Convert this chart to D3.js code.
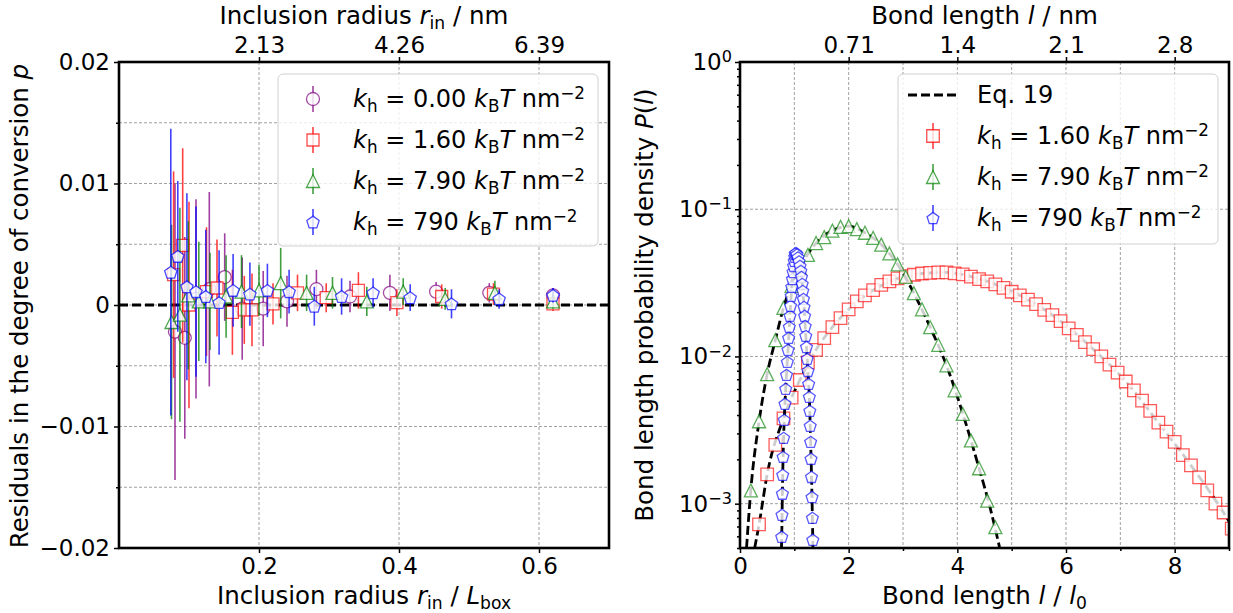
<!DOCTYPE html>
<html>
<head>
<meta charset="utf-8">
<script src="https://cdn.jsdelivr.net/npm/d3@7"></script>
<style>
  body { margin: 0; background: #fff; }
  svg { font-family: "DejaVu Sans", sans-serif; }
</style>
</head>
<body>
<svg id="chart" width="1233" height="613"></svg>
<script>
// ---- left panel: residuals vs inclusion radius ----
const kh000X = [0.080, 0.094, 0.110, 0.129, 0.151, 0.176, 0.206, 0.240, 0.282, 0.330, 0.387, 0.453, 0.529, 0.620];
const kh000Y = [-0.0022, -0.0027, 0.0005, 0.0013, 0.0023, -0.0003, -0.0003, 0.0003, 0.0013, 0.0007, 0.0010, 0.0011, 0.0010, 0.0008];
const kh000Err = [0.0122, 0.0083, 0.0082, 0.0080, 0.0036, 0.0042, 0.0031, 0.0021, 0.0016, 0.0013, 0.0015, 0.0008, 0.0008, 0.0006];

const kh160X = [0.078, 0.091, 0.100, 0.125, 0.140, 0.162, 0.179, 0.190, 0.220, 0.255, 0.296, 0.342, 0.397, 0.461, 0.535, 0.620];
const kh160Y = [0.0025, 0.0049, 0.0000, 0.0011, 0.0014, -0.0006, -0.0004, -0.0004, 0.0001, 0.0010, 0.0006, 0.0012, 0.0002, 0.0007, 0.0009, 0.0001];
const kh160Err = [0.0085, 0.0080, 0.0085, 0.0053, 0.0040, 0.0035, 0.0028, 0.0030, 0.0017, 0.0015, 0.0012, 0.0015, 0.0011, 0.0010, 0.0009, 0.0006];

const kh790X = [0.075, 0.087, 0.099, 0.114, 0.130, 0.153, 0.175, 0.200, 0.231, 0.268, 0.305, 0.354, 0.406, 0.466, 0.537, 0.620];
const kh790Y = [-0.0014, -0.0008, 0.0008, 0.0003, 0.0003, 0.0007, 0.0011, 0.0012, 0.0018, 0.0010, 0.0010, 0.0003, 0.0011, 0.0005, 0.0010, 0.0003];
const kh790Err = [0.0080, 0.0088, 0.0061, 0.0049, 0.0040, 0.0034, 0.0030, 0.0021, 0.0029, 0.0015, 0.0013, 0.0012, 0.0011, 0.0009, 0.0010, 0.0006];

const kh7900X = [0.074, 0.084, 0.097, 0.110, 0.124, 0.143, 0.163, 0.187, 0.212, 0.243, 0.279, 0.318, 0.363, 0.416, 0.475, 0.543, 0.620];
const kh7900Y = [0.0027, 0.0040, 0.0015, 0.0011, 0.0007, 0.0002, 0.0012, 0.0009, 0.0012, 0.0011, -0.0001, 0.0007, 0.0010, 0.0006, 0.0001, 0.0005, 0.0008];
const kh7900Err = [0.0118, 0.0062, 0.0077, 0.0070, 0.0055, 0.0043, 0.0030, 0.0026, 0.0022, 0.0018, 0.0016, 0.0015, 0.0012, 0.0011, 0.0012, 0.0008, 0.0006];

const leftYTicks = [-0.02, -0.01, 0, 0.01, 0.02];
const leftYLabels = ["\u22120.02", "\u22120.01", "0", "0.01", "0.02"];
const leftYMinor = [-0.015, -0.005, 0.005, 0.015];
const leftXTicks = [0.2, 0.4, 0.6];
const leftXLabels = ["0.2", "0.4", "0.6"];
const leftTopLabels = ["2.13", "4.26", "6.39"];

// ---- right panel: bond length distributions ----
const redL = [0.35, 0.5, 0.65, 0.8, 0.95, 1.1, 1.25, 1.4, 1.55, 1.7, 1.85, 2.0, 2.15, 2.3, 2.45, 2.6, 2.75, 2.9, 3.05, 3.2,
  3.35, 3.5, 3.65, 3.8, 3.95, 4.1, 4.25, 4.4, 4.55, 4.7, 4.85, 5.0, 5.15, 5.3, 5.45, 5.6, 5.75, 5.9, 6.05, 6.2,
  6.35, 6.5, 6.65, 6.8, 6.95, 7.1, 7.25, 7.4, 7.55, 7.7, 7.85, 8.0, 8.15, 8.3, 8.45, 8.6, 8.75, 8.9, 9.05];
const redP = [0.000724, 0.00158, 0.00251, 0.00380, 0.00525, 0.00692, 0.00912, 0.0111, 0.0133, 0.0158, 0.0182, 0.0209, 0.0237, 0.0260, 0.0282, 0.0306, 0.0324, 0.0339, 0.0351, 0.0359,
  0.0366, 0.0370, 0.0372, 0.0372, 0.0367, 0.0361, 0.0349, 0.0335, 0.0324, 0.0309, 0.0292, 0.0275, 0.0260, 0.0243, 0.0227, 0.0207, 0.0191, 0.0174, 0.0155, 0.0140,
  0.0125, 0.0112, 0.0100, 0.00881, 0.00776, 0.00676, 0.00589, 0.00501, 0.00427, 0.00355, 0.00309, 0.00263, 0.00214, 0.00182, 0.00151, 0.00123, 0.00100, 0.000871, 0.000676];

const greenL = [0.2, 0.35, 0.5, 0.65, 0.8, 0.95, 1.1, 1.25, 1.4, 1.55, 1.7, 1.85, 2.0, 2.15, 2.3, 2.45, 2.6, 2.75, 2.9, 3.05,
  3.2, 3.35, 3.5, 3.65, 3.8, 3.95, 4.1, 4.25, 4.4, 4.55, 4.7];
const greenP = [0.00123, 0.00363, 0.00759, 0.0129, 0.0214, 0.0302, 0.0398, 0.0490, 0.0589, 0.0646, 0.0716, 0.0759, 0.0767, 0.0733, 0.0692, 0.0638, 0.0575, 0.0501, 0.0422, 0.0347,
  0.0269, 0.0209, 0.0158, 0.0120, 0.00871, 0.00589, 0.00407, 0.00269, 0.00174, 0.00105, 0.000692];

const blueL = [0.768, 0.773, 0.780, 0.786, 0.793, 0.803, 0.814, 0.828, 0.841, 0.856, 0.871, 0.884, 0.895, 0.907, 0.920, 0.931,
  0.942, 0.953, 0.965, 0.976, 0.987, 0.998, 1.007, 1.016,
  1.031, 1.049, 1.068, 1.086, 1.104, 1.119, 1.132, 1.145, 1.156, 1.167, 1.178, 1.189, 1.200, 1.211, 1.224, 1.237,
  1.250, 1.263, 1.276, 1.285, 1.292, 1.300, 1.307, 1.316, 1.325, 1.333, 1.340];
const blueP = [0.000596, 0.000841, 0.00117, 0.00157, 0.00208, 0.00280, 0.00371, 0.00477, 0.00603, 0.00750, 0.00919, 0.0111, 0.0134, 0.0159, 0.0189, 0.0221,
  0.0258, 0.0297, 0.0336, 0.0375, 0.0412, 0.0446, 0.0475, 0.0497,
  0.0505, 0.0493, 0.0471, 0.0442, 0.0412, 0.0381, 0.0347, 0.0311, 0.0279, 0.0246, 0.0217, 0.0189, 0.0161, 0.0138, 0.0116, 0.00963,
  0.00798, 0.00652, 0.00532, 0.00427, 0.00338, 0.00263, 0.00202, 0.00152, 0.00111, 0.000802, 0.000569];

// Eq. 19 curves
const redFitL = [0.27, 0.35, 0.5, 0.8, 1.1, 1.4, 1.7, 2.0, 2.45, 2.9, 3.35, 3.8, 4.25, 4.7, 5.3, 5.9, 6.5, 7.1, 7.7, 8.3, 8.9, 9.1];
const redFitP = [0.0005, 0.00072, 0.00158, 0.0038, 0.0069, 0.0111, 0.0158, 0.0209, 0.0282, 0.0339, 0.0366, 0.0372, 0.0349, 0.0309, 0.0243, 0.0174, 0.0112, 0.00676, 0.00355, 0.00182, 0.00087, 0.00066];
const greenFitL = [0.12, 0.2, 0.35, 0.5, 0.65, 0.8, 1.1, 1.4, 1.7, 2.0, 2.3, 2.6, 2.9, 3.2, 3.5, 3.8, 4.1, 4.4, 4.6, 4.78];
const greenFitP = [0.0005, 0.00125, 0.0036, 0.0076, 0.0129, 0.0214, 0.0398, 0.0589, 0.0716, 0.0767, 0.0692, 0.0575, 0.0422, 0.0269, 0.0158, 0.0087, 0.0041, 0.00174, 0.00095, 0.0005];
const blueFitL = [0.763, 0.768, 0.780, 0.793, 0.814, 0.841, 0.884, 0.920, 0.953, 0.987, 1.016, 1.031, 1.068, 1.104, 1.145, 1.178, 1.211, 1.250, 1.276, 1.300, 1.325, 1.340, 1.343];
const blueFitP = [0.0005, 0.000596, 0.00117, 0.00208, 0.00371, 0.00603, 0.0111, 0.0189, 0.0297, 0.0412, 0.0497, 0.0505, 0.0471, 0.0412, 0.0311, 0.0217, 0.0138, 0.00798, 0.00532, 0.00263, 0.00111, 0.000569, 0.0005];

const rightXTicks = [0, 2, 4, 6, 8];
const rightXMinor = [1, 3, 5, 7, 9];
const rightXGrid = [1, 2, 3, 4, 5, 6, 7, 8];
const rightTopTicks = [2, 4, 6, 8];
const rightTopLabels = ["0.71", "1.4", "2.1", "2.8"];
const rightYTicks = [1, 0.1, 0.01, 0.001];
const rightYExp = ["0", "\u22121", "\u22122", "\u22123"];

const TICK = 23, LABEL = 24.5, LEG = 24;

const svg = d3.select("#chart");
const L = { x0: 119, x1: 609, y0: 62, y1: 548 };
const R = { x0: 740, x1: 1229, y0: 62, y1: 548 };

const xL = d3.scaleLinear().domain([0, 0.7]).range([L.x0, L.x1]);
const yL = d3.scaleLinear().domain([-0.02, 0.02]).range([L.y1, L.y0]);
const xR = d3.scaleLinear().domain([0, 9]).range([R.x0, R.x1]);
const yR = d3.scaleLog().domain([5e-4, 1]).range([R.y1, R.y0]);

const rgba = (c, a) => `rgba(${c[0]},${c[1]},${c[2]},${a})`;
const PURPLE = [128, 0, 128], RED = [255, 0, 0], GREEN = [0, 128, 0], BLUE = [0, 0, 255];

function khParts(v) {
  return [{ t: "k", it: 1 }, { t: "h", sub: 1 }, { t: " = " + v + " " }, { t: "k", it: 1 },
    { t: "B", sub: 1 }, { t: "T", it: 1 }, { t: " nm" }, { t: "\u22122", sup: 1 }];
}

// text with italic / sub / superscript pieces
function addText(g, x, y, parts, size, anchor, rotate) {
  const t = g.append("text")
    .attr("font-size", size)
    .attr("text-anchor", anchor || "start")
    .attr("fill", "#000")
    .style("white-space", "pre");
  if (rotate) t.attr("transform", `translate(${x},${y}) rotate(-90)`);
  else t.attr("x", x).attr("y", y);
  let cur = 0;
  parts.forEach((p) => {
    if (typeof p === "string") p = { t: p };
    const shift = p.sub ? 0.2 * size : p.sup ? -0.34 * size : 0;
    const ts = t.append("tspan").text(p.t).attr("dy", shift - cur);
    cur = shift;
    if (p.sub || p.sup) ts.attr("font-size", size * 0.7);
    if (p.it) ts.attr("font-style", "italic");
  });
  return t;
}

function markerPath(shape, s) {
  const h = s / 2;
  if (shape === "circle") return d3.symbol(d3.symbolCircle, Math.PI * h * h)();
  if (shape === "square") return `M${-h},${-h}H${h}V${h}H${-h}Z`;
  if (shape === "triangle") return `M0,${-h}L${h},${h}L${-h},${h}Z`;
  const pts = d3.range(5).map((i) => {
    const a = -Math.PI / 2 + (i * 2 * Math.PI) / 5;
    return [1.08 * h * Math.cos(a), 1.08 * h * Math.sin(a) + 0.1 * h];
  });
  return "M" + pts.join("L") + "Z";
}

function styleAxis(g, size) {
  g.select(".domain").remove();
  g.selectAll(".tick line").attr("stroke", "#000").attr("stroke-width", 1.5);
  g.selectAll(".tick text").attr("font-size", size).attr("font-family", '"DejaVu Sans", sans-serif').attr("fill", "#000");
}

const defs = svg.append("defs");
defs.append("clipPath").attr("id", "clipL").append("rect")
  .attr("x", L.x0).attr("y", L.y0).attr("width", L.x1 - L.x0).attr("height", L.y1 - L.y0);
defs.append("clipPath").attr("id", "clipR").append("rect")
  .attr("x", R.x0).attr("y", R.y0).attr("width", R.x1 - R.x0).attr("height", R.y1 - R.y0);

const gridStyle = (sel) => sel.attr("stroke", "#a0a0a0").attr("stroke-width", 1).attr("stroke-dasharray", "3,2");

// ================= LEFT PANEL =================
const gL = svg.append("g");

gL.append("g").selectAll("line").data(leftYTicks.concat(leftYMinor).filter((d) => d > -0.02 && d < 0.02))
  .join("line")
  .attr("x1", L.x0).attr("x2", L.x1).attr("y1", (d) => yL(d)).attr("y2", (d) => yL(d))
  .call(gridStyle);
gL.append("g").selectAll("line").data(leftXTicks).join("line")
  .attr("x1", (d) => xL(d)).attr("x2", (d) => xL(d)).attr("y1", L.y0).attr("y2", L.y1)
  .call(gridStyle);

// zero reference
gL.append("line")
  .attr("x1", L.x0).attr("x2", L.x1).attr("y1", yL(0)).attr("y2", yL(0))
  .attr("stroke", "#000").attr("stroke-width", 2.8).attr("stroke-dasharray", "9,4");

const leftSeries = [
  { v: "0.00", shape: "circle", size: 13, c: PURPLE, x: kh000X, y: kh000Y, err: kh000Err },
  { v: "1.60", shape: "square", size: 12, c: RED, x: kh160X, y: kh160Y, err: kh160Err },
  { v: "7.90", shape: "triangle", size: 13, c: GREEN, x: kh790X, y: kh790Y, err: kh790Err },
  { v: "790", shape: "pentagon", size: 12, c: BLUE, x: kh7900X, y: kh7900Y, err: kh7900Err },
];

const gLData = gL.append("g").attr("clip-path", "url(#clipL)");
leftSeries.forEach((s) => {
  const pts = s.x.map((x, i) => ({ x, y: s.y[i], e: s.err[i] }));
  const g = gLData.append("g");
  g.selectAll("line.err").data(pts).join("line")
    .attr("class", "err")
    .attr("x1", (d) => xL(d.x)).attr("x2", (d) => xL(d.x))
    .attr("y1", (d) => yL(d.y - d.e)).attr("y2", (d) => yL(d.y + d.e))
    .attr("stroke", rgba(s.c, 0.75)).attr("stroke-width", 1.6);
  g.selectAll("path.mk").data(pts).join("path")
    .attr("class", "mk")
    .attr("d", markerPath(s.shape, s.size))
    .attr("transform", (d) => `translate(${xL(d.x)},${yL(d.y)})`)
    .attr("fill", "rgba(255,255,255,0.8)")
    .attr("stroke", rgba(s.c, 0.7)).attr("stroke-width", 1.3);
});

// axes
gL.append("g").attr("transform", `translate(${L.x0},0)`)
  .call(d3.axisLeft(yL).tickValues(leftYTicks).tickSize(5).tickPadding(4)
    .tickFormat((d, i) => leftYLabels[i]))
  .call((g) => styleAxis(g, TICK));
gL.append("g").attr("transform", `translate(${L.x0},0)`)
  .call(d3.axisLeft(yL).tickValues(leftYMinor).tickSize(3).tickFormat(""))
  .call((g) => styleAxis(g, TICK));
gL.append("g").attr("transform", `translate(0,${L.y1})`)
  .call(d3.axisBottom(xL).tickValues(leftXTicks).tickSize(5).tickPadding(5)
    .tickFormat((d, i) => leftXLabels[i]))
  .call((g) => styleAxis(g, TICK));
gL.append("g").attr("transform", `translate(0,${L.y0})`)
  .call(d3.axisTop(xL).tickValues(leftXTicks).tickSize(5).tickPadding(4)
    .tickFormat((d, i) => leftTopLabels[i]))
  .call((g) => styleAxis(g, TICK));

gL.append("rect")
  .attr("x", L.x0).attr("y", L.y0).attr("width", L.x1 - L.x0).attr("height", L.y1 - L.y0)
  .attr("fill", "none").attr("stroke", "#000").attr("stroke-width", 2.6);

addText(gL, (L.x0 + L.x1) / 2, 24, ["Inclusion radius ", { t: "r", it: 1 }, { t: "in", sub: 1 }, " / nm"], LABEL, "middle");
addText(gL, (L.x0 + L.x1) / 2, 604, ["Inclusion radius ", { t: "r", it: 1 }, { t: "in", sub: 1 }, " / ",
  { t: "L", it: 1 }, { t: "box", sub: 1 }], LABEL, "middle");
addText(gL, 28, 306, ["Residuals in the degree of conversion ", { t: "p", it: 1 }], LABEL, "middle", true);

// legend
function drawLegend(g, box, rows, markerDx, textDx) {
  const lg = g.append("g");
  lg.append("rect").attr("x", box.x).attr("y", box.y).attr("width", box.w).attr("height", box.h)
    .attr("rx", 5).attr("fill", "rgba(255,255,255,0.8)").attr("stroke", "#d0d0d0").attr("stroke-width", 1);
  rows.forEach((r, i) => {
    const cy = box.rowY + i * box.step;
    const cx = box.x + markerDx;
    if (r.line) {
      lg.append("line").attr("x1", box.x + 10).attr("x2", box.x + 59).attr("y1", cy).attr("y2", cy)
        .attr("stroke", "#000").attr("stroke-width", 2.8).attr("stroke-dasharray", "9,4");
    } else {
      lg.append("line").attr("x1", cx).attr("x2", cx).attr("y1", cy - 13).attr("y2", cy + 13)
        .attr("stroke", rgba(r.c, 0.75)).attr("stroke-width", 1.6);
      lg.append("path").attr("d", markerPath(r.shape, r.size))
        .attr("transform", `translate(${cx},${cy})`)
        .attr("fill", "rgba(255,255,255,0.8)").attr("stroke", rgba(r.c, 0.7)).attr("stroke-width", 1.3);
    }
    addText(lg, box.x + textDx, cy + 8, r.parts, LEG, "start");
  });
}

drawLegend(gL, { x: 278, y: 74, w: 320, h: 172, rowY: 99, step: 41 },
  leftSeries.map((s) => ({ c: s.c, shape: s.shape, size: s.size, parts: khParts(s.v) })), 35, 75);

// ================= RIGHT PANEL =================
const gR = svg.append("g");

gR.append("g").selectAll("line").data(rightYTicks.filter((d) => d < 1)).join("line")
  .attr("x1", R.x0).attr("x2", R.x1).attr("y1", (d) => yR(d)).attr("y2", (d) => yR(d))
  .call(gridStyle);
gR.append("g").selectAll("line").data(rightXGrid).join("line")
  .attr("x1", (d) => xR(d)).attr("x2", (d) => xR(d)).attr("y1", R.y0).attr("y2", R.y1)
  .call(gridStyle);

const rightSeries = [
  { v: "1.60", shape: "square", size: 12.5, c: RED, l: redL, p: redP, fl: redFitL, fp: redFitP },
  { v: "7.90", shape: "triangle", size: 13, c: GREEN, l: greenL, p: greenP, fl: greenFitL, fp: greenFitP },
  { v: "790", shape: "pentagon", size: 11.5, c: BLUE, l: blueL, p: blueP, fl: blueFitL, fp: blueFitP },
];

const fitLine = d3.line().x((d) => xR(d[0])).y((d) => yR(d[1])).curve(d3.curveMonotoneX);
const gRData = gR.append("g").attr("clip-path", "url(#clipR)");
rightSeries.forEach((s) => {
  gRData.append("path")
    .attr("d", fitLine(s.fl.map((l, i) => [l, s.fp[i]])))
    .attr("fill", "none").attr("stroke", "#000").attr("stroke-width", 2.8).attr("stroke-dasharray", "9,4");
  gRData.append("g").selectAll("path").data(s.l.map((l, i) => [l, s.p[i]])).join("path")
    .attr("d", markerPath(s.shape, s.size))
    .attr("transform", (d) => `translate(${xR(d[0])},${yR(d[1])})`)
    .attr("fill", "rgba(255,255,255,0.8)")
    .attr("stroke", rgba(s.c, 0.65)).attr("stroke-width", 1.3);
});

gR.append("g").attr("transform", `translate(${R.x0},0)`)
  .call(d3.axisLeft(yR).tickValues(rightYTicks).tickSize(5).tickFormat(""))
  .call((g) => styleAxis(g, TICK));
gR.append("g").attr("transform", `translate(${R.x0},0)`)
  .call(d3.axisLeft(yR).tickValues(yR.ticks().filter((d) => rightYTicks.indexOf(d) < 0)).tickSize(3).tickFormat(""))
  .call((g) => styleAxis(g, TICK));
rightYTicks.forEach((d, i) => {
  addText(gR, R.x0 - 8, yR(d) + 8, ["10", { t: rightYExp[i], sup: 1 }], TICK, "end");
});
gR.append("g").attr("transform", `translate(0,${R.y1})`)
  .call(d3.axisBottom(xR).tickValues(rightXTicks).tickSize(5).tickPadding(5).tickFormat(d3.format("d")))
  .call((g) => styleAxis(g, TICK));
gR.append("g").attr("transform", `translate(0,${R.y1})`)
  .call(d3.axisBottom(xR).tickValues(rightXMinor).tickSize(3).tickFormat(""))
  .call((g) => styleAxis(g, TICK));
gR.append("g").attr("transform", `translate(0,${R.y0})`)
  .call(d3.axisTop(xR).tickValues(rightTopTicks).tickSize(5).tickPadding(4)
    .tickFormat((d, i) => rightTopLabels[i]))
  .call((g) => styleAxis(g, TICK));

gR.append("rect")
  .attr("x", R.x0).attr("y", R.y0).attr("width", R.x1 - R.x0).attr("height", R.y1 - R.y0)
  .attr("fill", "none").attr("stroke", "#000").attr("stroke-width", 2.6);

addText(gR, (R.x0 + R.x1) / 2, 24, ["Bond length ", { t: "l", it: 1 }, " / nm"], LABEL, "middle");
addText(gR, (R.x0 + R.x1) / 2, 604, ["Bond length ", { t: "l", it: 1 }, " / ", { t: "l", it: 1 }, { t: "0", sub: 1 }], LABEL, "middle");
addText(gR, 653, 305, ["Bond length probability density ", { t: "P", it: 1 }, "(", { t: "l", it: 1 }, ")"], LABEL, "middle", true);

drawLegend(gR, { x: 898, y: 74, w: 320, h: 170, rowY: 95, step: 41 },
  [{ line: true, parts: ["Eq. 19"] }].concat(
    rightSeries.map((s) => ({ c: s.c, shape: s.shape, size: s.size, parts: khParts(s.v) }))), 35, 79);
</script>
</body>
</html>
